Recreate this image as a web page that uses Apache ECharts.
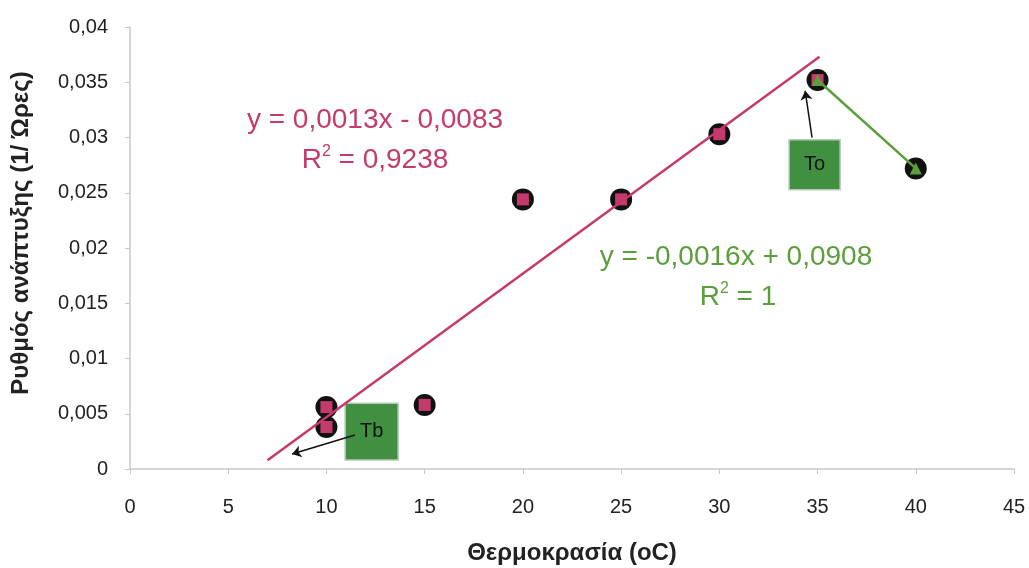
<!DOCTYPE html>
<html><head><meta charset="utf-8">
<script src="https://cdn.jsdelivr.net/npm/echarts@6/dist/echarts.min.js"></script>
<style>html,body{margin:0;padding:0;background:#fff}#c{width:1029px;height:568px}</style>
</head><body><div id="c"></div>
<script>
// Data
var temps = [10, 10, 15, 20, 25, 30, 35];
var rates = [0.0056, 0.0038, 0.0058, 0.0244, 0.0244, 0.0303, 0.0352];
var greenTemps = [35, 40];
var greenRates = [0.0352, 0.0272];
var trendStart = [7, 0.0008];
var trendEnd = [35.1, 0.0373];
var xTicks = [0, 5, 10, 15, 20, 25, 30, 35, 40, 45];
var yTicks = ['0', '0,005', '0,01', '0,015', '0,02', '0,025', '0,03', '0,035', '0,04'];
var eqPink = ['y = 0,0013x - 0,0083', 'R{s|2} = 0,9238'];
var eqGreen = ['y = -0,0016x + 0,0908', 'R{s|2} = 1'];
var tbBox = [[10.95, 0.00596], [13.65, 0.00081]];
var toBox = [[33.55, 0.0298], [36.15, 0.02528]];
var tbArrow = [[11.45, 0.00307], [8.25, 0.00135]];
var toArrow = [[34.72, 0.02998], [34.37, 0.03422]];

var PINK = '#c43a6c', GREEN = '#5c9e3c', BOXG = '#418f41';
var font = 'Liberation Sans';
var chart = echarts.init(document.getElementById('c'));
function zip(a, b) { return a.map(function (v, i) { return [v, b[i]]; }); }
var boxStyle = { color: BOXG, borderColor: '#b9c9b9', borderWidth: 1.5, opacity: 1 };
var boxLabel = { show: true, position: 'inside', color: '#111', fontSize: 20, fontFamily: font, padding: [0, 0, 20, 0] };
var supStyle = { s: { fontSize: 16, verticalAlign: 'top', padding: [0, 0, 16, 0] } };
chart.setOption({
  animation: false,
  backgroundColor: '#fff',
  grid: { left: 130, right: 15, top: 27, bottom: 99, outerBoundsMode: 'none', containLabel: false },
  xAxis: {
    type: 'value', min: 0, max: 45, interval: 5,
    name: 'Θερμοκρασία (oC)', nameLocation: 'middle', nameGap: 72,
    nameTextStyle: { fontSize: 24, fontWeight: 'bold', color: '#222', fontFamily: font },
    axisLine: { lineStyle: { color: '#c8c8c8', width: 1.5 } },
    axisTick: { show: true, length: 5, lineStyle: { color: '#c8c8c8' } },
    axisLabel: { fontSize: 20, color: '#222', margin: 28, fontFamily: font },
    splitLine: { show: false }
  },
  yAxis: {
    type: 'value', min: 0, max: 0.04, interval: 0.005,
    name: 'Ρυθμός ανάπτυξης (1/ Ώρες)', nameLocation: 'middle', nameGap: 97, nameRotate: 90,
    nameTextStyle: { fontSize: 24, fontWeight: 'bold', color: '#222', fontFamily: font, padding: [0, 0, 0, 30] },
    axisLine: { show: true, lineStyle: { color: '#c8c8c8', width: 1.5 } },
    axisTick: { show: true, length: 5, lineStyle: { color: '#c8c8c8' } },
    axisLabel: { fontSize: 20, color: '#222', margin: 22, fontFamily: font,
      formatter: function (v) { return yTicks[Math.round(v / 0.005)]; } },
    splitLine: { show: false }
  },
  series: [
    { type: 'scatter', data: zip(temps, rates).concat([[40, 0.0272]]), symbol: 'circle', symbolSize: 22,
      itemStyle: { color: '#111', opacity: 1 }, z: 2 },
    { type: 'scatter', data: zip(temps, rates), symbol: 'rect', symbolSize: 12,
      itemStyle: { color: PINK, opacity: 1 }, z: 3 },
    { type: 'line', data: zip(greenTemps, greenRates), symbol: 'triangle', symbolSize: 12, showSymbol: true,
      lineStyle: { color: GREEN, width: 2.5 }, itemStyle: { color: GREEN, opacity: 1 }, z: 4 },
    { type: 'line', data: [trendStart, trendEnd], symbol: 'none',
      lineStyle: { color: PINK, width: 2.5 }, z: 5,
      markArea: { silent: true, data: [
        [{ coord: tbBox[0], name: 'Tb', itemStyle: boxStyle, label: boxLabel }, { coord: tbBox[1] }],
        [{ coord: toBox[0], name: 'To', itemStyle: boxStyle, label: boxLabel }, { coord: toBox[1] }]
      ] },
      markLine: { silent: true, symbol: ['none', 'arrow'], symbolSize: 9, label: { show: false },
        lineStyle: { color: '#111', width: 1.5, type: 'solid' },
        data: [[{ coord: tbArrow[0] }, { coord: tbArrow[1] }], [{ coord: toArrow[0] }, { coord: toArrow[1] }]] }
    }
  ],
  graphic: [
    { type: 'text', x: 375, y: 120, z: 10, style: { text: eqPink[0], fill: PINK, fontSize: 28, fontFamily: font, align: 'center', verticalAlign: 'middle' } },
    { type: 'text', x: 375, y: 160, z: 10, style: { text: eqPink[1], fill: PINK, fontSize: 28, fontFamily: font, align: 'center', verticalAlign: 'middle', rich: supStyle } },
    { type: 'text', x: 736, y: 257, z: 10, style: { text: eqGreen[0], fill: GREEN, fontSize: 28, fontFamily: font, align: 'center', verticalAlign: 'middle' } },
    { type: 'text', x: 738, y: 297, z: 10, style: { text: eqGreen[1], fill: GREEN, fontSize: 28, fontFamily: font, align: 'center', verticalAlign: 'middle', rich: supStyle } }
  ]
});
</script></body></html>
